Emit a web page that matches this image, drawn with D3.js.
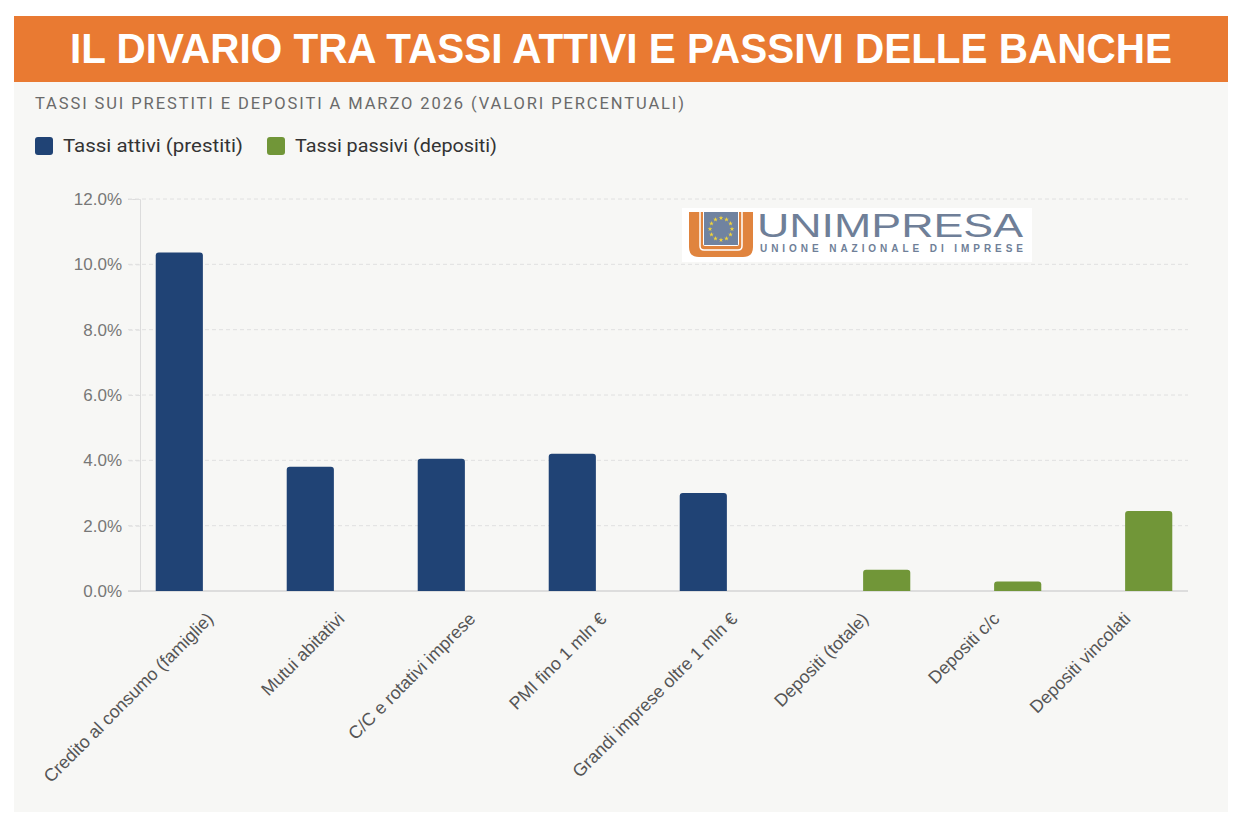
<!DOCTYPE html>
<html>
<head>
<meta charset="utf-8">
<script src="https://cdn.jsdelivr.net/npm/d3@7"></script>
<style>
  html, body { margin: 0; padding: 0; background: #ffffff; }
  svg { display: block; }
</style>
</head>
<body>
<svg id="chart" width="1246" height="826"></svg>
<script>
// ---- data ----
const categories = [
  "Credito al consumo (famiglie)",
  "Mutui abitativi",
  "C/C e rotativi imprese",
  "PMI fino 1 mln €",
  "Grandi imprese oltre 1 mln €",
  "Depositi (totale)",
  "Depositi c/c",
  "Depositi vincolati"
];
const seriesNames = ["Tassi attivi (prestiti)", "Tassi passivi (depositi)"];
const tassiAttivi  = [10.36, 3.80, 4.05, 4.20, 3.00, null, null, null];
const tassiPassivi = [null, null, null, null, null, 0.65, 0.29, 2.45];
const yTicks = [0, 2, 4, 6, 8, 10, 12];
const titleText = "IL DIVARIO TRA TASSI ATTIVI E PASSIVI DELLE BANCHE";
const subtitleText = "TASSI SUI PRESTITI E DEPOSITI A MARZO 2026 (VALORI PERCENTUALI)";

const colors = ["#204375", "#719638"];
const seriesValues = [tassiAttivi, tassiPassivi];

const svg = d3.select("#chart");

// panel + header
svg.append("rect").attr("x", 14).attr("y", 16).attr("width", 1214).attr("height", 796).attr("fill", "#f7f7f5");
svg.append("rect").attr("x", 14).attr("y", 16).attr("width", 1214).attr("height", 66).attr("fill", "#e97a32");
svg.append("text").attr("x", 621).attr("y", 63).attr("text-anchor", "middle")
  .attr("font-family", "Liberation Sans, Arial, sans-serif").attr("font-weight", "bold")
  .attr("font-size", 42).attr("fill", "#ffffff")
  .attr("textLength", 1102).attr("lengthAdjust", "spacingAndGlyphs")
  .text(titleText);

svg.append("text").attr("x", 35).attr("y", 109)
  .attr("font-family", "Roboto, sans-serif").attr("font-size", 16.5).attr("fill", "#6a6a6a")
  .attr("textLength", 649).attr("lengthAdjust", "spacing")
  .text(subtitleText);

// legend
const legendX = [35, 267];
const legendLen = [180, 202];
seriesNames.forEach((s, i) => {
  const g = svg.append("g").attr("transform", `translate(${legendX[i]},137)`);
  g.append("rect").attr("width", 18).attr("height", 18).attr("rx", 3).attr("fill", colors[i]);
  g.append("text").attr("x", 28).attr("y", 15)
    .attr("font-family", "Roboto, sans-serif").attr("font-size", 19).attr("fill", "#333")
    .attr("textLength", legendLen[i]).attr("lengthAdjust", "spacingAndGlyphs")
    .text(s);
});

// scales
const y = d3.scaleLinear().domain([0, 12]).range([591, 199]);
const x0 = d3.scaleBand().domain(categories).range([140, 1188]).padding(0);
const bw = x0.bandwidth();
const x1 = d3.scaleBand().domain(seriesNames).range([bw * 0.1, bw * 0.9]).padding(0);

// gridlines
svg.append("g").selectAll("line").data(yTicks.filter(d => d > 0)).join("line")
  .attr("x1", 128).attr("x2", 1188)
  .attr("y1", d => y(d)).attr("y2", d => y(d))
  .attr("stroke", "#e0e0e0").attr("stroke-width", 1).attr("stroke-dasharray", "4,3");

// y axis
const yAxis = d3.axisLeft(y).tickValues(yTicks).tickSize(12).tickPadding(6)
  .tickFormat(d => d.toFixed(1) + "%");
const gy = svg.append("g").attr("transform", "translate(140,0)").call(yAxis);
gy.select(".domain").attr("stroke", "#dcdcdc");
gy.selectAll(".tick line").attr("stroke", "#e0e0e0").attr("stroke-dasharray", "4,3");
gy.selectAll(".tick text").attr("font-family", "Liberation Sans, Arial, sans-serif")
  .attr("font-size", 17).attr("fill", "#777");

// baseline
svg.append("line").attr("x1", 128).attr("x2", 1188).attr("y1", y(0)).attr("y2", y(0))
  .attr("stroke", "#d4d4d4").attr("stroke-width", 1.5);

// bars
function roundTopRect(x, yTop, w, h, r) {
  r = Math.min(r, h / 2, w / 2);
  return `M${x},${yTop + h}V${yTop + r}Q${x},${yTop} ${x + r},${yTop}H${x + w - r}Q${x + w},${yTop} ${x + w},${yTop + r}V${yTop + h}Z`;
}
const barData = [];
categories.forEach((c, ci) => {
  seriesNames.forEach((s, si) => {
    const v = seriesValues[si][ci];
    if (v != null) barData.push({ c, s, v, si });
  });
});
const barW = x1.bandwidth() * 0.9;
svg.append("g").selectAll("path").data(barData).join("path")
  .attr("d", d => {
    const bx = x0(d.c) + x1(d.s) + x1.bandwidth() * 0.05;
    return roundTopRect(bx, y(d.v), barW, y(0) - y(d.v), 3);
  })
  .attr("fill", d => colors[d.si]);

// x labels
const xAxis = d3.axisBottom(x0).tickSize(0).tickPadding(0);
const gx = svg.append("g").attr("transform", `translate(0,${y(0)})`).call(xAxis);
gx.select(".domain").remove();
gx.selectAll(".tick text")
  .attr("font-family", "Liberation Sans, Arial, sans-serif").attr("font-size", 17.8).attr("fill", "#555")
  .attr("text-anchor", "end")
  .attr("transform", "translate(0,20) rotate(-45)")
  .attr("dy", "0.71em").attr("y", 0);

// logo
const logo = svg.append("g").attr("transform", "translate(682,208)");
logo.append("rect").attr("width", 350).attr("height", 54).attr("fill", "#ffffff");
// orange U
logo.append("path")
  .attr("d", "M7,4 H21 V36 Q21,38 23,38 H55 Q57,38 57,36 V4 H71 V39 Q71,49 61,49 H17 Q7,49 7,39 Z")
  .attr("fill", "#e0843e");
logo.append("path")
  .attr("d", "M18,4 V38 Q18,42 22,42 H56 Q60,42 60,38 V4")
  .attr("fill", "none").attr("stroke", "#ffffff").attr("stroke-width", 1.5);
// blue square
logo.append("rect").attr("x", 22).attr("y", 4).attr("width", 34).attr("height", 33).attr("fill", "#7083a0");
const starAngles = d3.range(12);
const starPath = d3.symbol().type(d3.symbolStar).size(7)();
logo.append("g").selectAll("path").data(starAngles).join("path")
  .attr("d", starPath)
  .attr("transform", d => {
    const a = d / 12 * 2 * Math.PI;
    return `translate(${39 + 11 * Math.sin(a)},${21 - 11 * Math.cos(a)})`;
  })
  .attr("fill", "#f2d43a");
logo.append("text").attr("x", 75).attr("y", 29)
  .attr("font-family", "Liberation Sans, Arial, sans-serif").attr("font-size", 34)
  .attr("fill", "#6f7f98")
  .attr("textLength", 266).attr("lengthAdjust", "spacingAndGlyphs")
  .text("UNIMPRESA");
logo.append("text").attr("x", 78).attr("y", 44)
  .attr("font-family", "Liberation Sans, Arial, sans-serif").attr("font-size", 10).attr("font-weight", "bold")
  .attr("fill", "#6f7f98")
  .attr("textLength", 263).attr("lengthAdjust", "spacing")
  .text("UNIONE NAZIONALE DI IMPRESE");
</script>
</body>
</html>
